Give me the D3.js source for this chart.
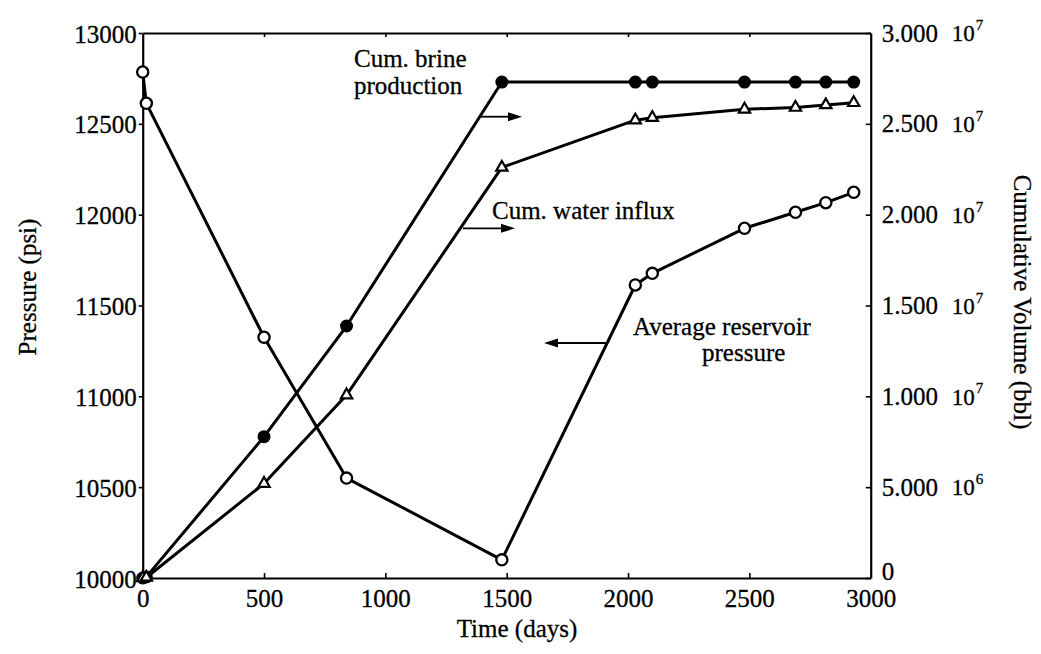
<!DOCTYPE html>
<html>
<head>
<meta charset="utf-8">
<script src="https://cdn.jsdelivr.net/npm/d3@7"></script>
<style>
  html, body { margin: 0; padding: 0; background: #fff; }
  svg { display: block; }
  text { font-family: "Liberation Serif", "Times New Roman", serif; fill: #000; stroke: #000; stroke-width: 0.3px; }
</style>
</head>
<body>
<svg id="chart" width="1041" height="654"></svg>
<script>
// Time of each observation (days)
const days = [0, 15, 500, 840, 1480, 2030, 2100, 2480, 2690, 2815, 2930];
// Average reservoir pressure (psi) - left axis
const pressure = [12785, 12613, 11325, 10550, 10100, 11613, 11677, 11925, 12013, 12066, 12123];
// Cumulative brine production (bbl) - right axis
const brine = [0, 60000, 7.78e6, 1.387e7, 2.73e7, 2.73e7, 2.73e7, 2.73e7, 2.73e7, 2.73e7, 2.73e7];
// Cumulative water influx (bbl) - right axis
const influx = [0, 30000, 5.2e6, 1.007e7, 2.26e7, 2.52e7, 2.534e7, 2.58e7, 2.59e7, 2.604e7, 2.616e7];

// Tick values and labels
const timeTicks = [0, 500, 1000, 1500, 2000, 2500, 3000];
const pressureTicks = [10000, 10500, 11000, 11500, 12000, 12500, 13000];
const volumeTicks = [0, 5e6, 1e7, 1.5e7, 2e7, 2.5e7, 3e7];
const volumeMantissa = ["0", "5.000", "1.000", "1.500", "2.000", "2.500", "3.000"];
const volumeExponent = ["", "6", "7", "7", "7", "7", "7"];

const svg = d3.select("#chart");
const FS = 25;

const x = d3.scaleLinear().domain([0, 3000]).range([142.7, 870.7]);
const yP = d3.scaleLinear().domain([10000, 13000]).range([578, 33]);
const yV = d3.scaleLinear().domain([0, 3e7]).range([578, 33]);

const axisStyle = g => {
  g.selectAll("path.domain").attr("stroke", "#000").attr("stroke-width", 2.2);
  g.selectAll(".tick line").attr("stroke", "#000").attr("stroke-width", 1.6);
  g.selectAll("text").attr("font-size", FS).attr("font-family", "Liberation Serif");
};

// Bottom axis (ticks inward)
svg.append("g")
  .attr("transform", `translate(0,${yP(10000)})`)
  .call(d3.axisBottom(x).tickValues(timeTicks).tickFormat(d3.format("d"))
    .tickSizeInner(-5).tickSizeOuter(0).tickPadding(11))
  .call(axisStyle);

// Top frame line (ticks inward, no labels)
svg.append("g")
  .attr("transform", `translate(0,${yP(13000)})`)
  .call(d3.axisTop(x).tickValues(timeTicks.slice(1, -1)).tickFormat("")
    .tickSizeInner(-4).tickSizeOuter(0))
  .call(axisStyle);

// Left pressure axis (ticks outward)
svg.append("g")
  .attr("transform", `translate(${x(0)},0)`)
  .call(d3.axisLeft(yP).tickValues(pressureTicks).tickFormat(d3.format("d"))
    .tickSizeInner(4).tickSizeOuter(0).tickPadding(2))
  .call(axisStyle)
  .selectAll("text").attr("dy", "0.36em");

// Right volume axis (ticks inward, labels in mantissa/exponent form)
svg.append("g")
  .attr("transform", `translate(${x(3000)},0)`)
  .call(d3.axisRight(yV).tickValues(volumeTicks).tickFormat("")
    .tickSizeInner(-5).tickSizeOuter(0))
  .call(axisStyle);

const rLabels = svg.append("g").selectAll("g")
  .data(volumeTicks).join("g")
  .attr("transform", d => `translate(${x(3000) + 11},${yV(d) - (d === 0 ? 7 : 0)})`);
rLabels.append("text")
  .attr("font-size", FS).attr("dy", "0.34em")
  .text((d, i) => volumeMantissa[i]);
const withExp = rLabels.filter((d, i) => volumeExponent[i] !== "");
withExp.append("text")
  .attr("x", 70).attr("font-size", 23).attr("dy", "0.36em")
  .text("10");
withExp.append("text")
  .attr("x", 94).attr("font-size", 15).attr("dy", "-0.2em")
  .text(d => volumeExponent[volumeTicks.indexOf(d)]);

// Axis titles
svg.append("text")
  .attr("x", 517).attr("y", 637)
  .attr("text-anchor", "middle").attr("font-size", FS)
  .text("Time (days)");
svg.append("text")
  .attr("transform", "translate(27,287) rotate(-90)")
  .attr("text-anchor", "middle").attr("dominant-baseline", "central").attr("font-size", FS)
  .text("Pressure (psi)");
svg.append("text")
  .attr("transform", "translate(1022,302) rotate(90)")
  .attr("text-anchor", "middle").attr("dominant-baseline", "central").attr("font-size", FS)
  .text("Cumulative Volume (bbl)");

// Series lines
const lineOf = (vals, y) => d3.line().x((d, i) => x(days[i])).y((d, i) => y(vals[i]))(vals);
const lines = svg.append("g").attr("fill", "none").attr("stroke", "#000")
  .attr("stroke-width", 3).attr("stroke-linejoin", "round");
lines.append("path").attr("d", lineOf(pressure, yP));
lines.append("path").attr("d", lineOf(brine, yV));
lines.append("path").attr("d", lineOf(influx, yV));

// Markers
svg.append("g").selectAll("circle")
  .data(brine).join("circle")
  .attr("cx", (d, i) => x(days[i])).attr("cy", d => yV(d))
  .attr("r", 6.5).attr("fill", "#000");

const tri = d3.symbol().type(d3.symbolTriangle).size(55);
svg.append("g").selectAll("path")
  .data(influx).join("path")
  .attr("d", tri)
  .attr("transform", (d, i) => `translate(${x(days[i])},${yV(d)})`)
  .attr("fill", "#fff").attr("stroke", "#000").attr("stroke-width", 2.2);

svg.append("g").selectAll("circle")
  .data(pressure).join("circle")
  .attr("cx", (d, i) => x(days[i])).attr("cy", d => yP(d))
  .attr("r", 5.6).attr("fill", "#fff").attr("stroke", "#000").attr("stroke-width", 2.3);

// Annotation arrows pointing to the axis each curve is read against
function arrow(x1, x2, y) {
  const dir = Math.sign(x2 - x1);
  const g = svg.append("g");
  g.append("line").attr("x1", x1).attr("x2", x2 - dir * 10).attr("y1", y).attr("y2", y)
    .attr("stroke", "#000").attr("stroke-width", 1.8);
  g.append("path")
    .attr("d", `M${x2},${y} L${x2 - dir * 14},${y - 4.5} L${x2 - dir * 14},${y + 4.5} Z`)
    .attr("fill", "#000");
}
arrow(480, 522, 116.7);
arrow(463, 515, 228.3);
arrow(606.7, 544, 343);

const note = (tx, ty, s) => svg.append("text").attr("x", tx).attr("y", ty)
  .attr("font-size", FS).text(s);
note(354, 67, "Cum. brine");
note(354, 93.5, "production");
note(492, 218.5, "Cum. water influx");
note(633, 335, "Average reservoir");
note(702, 361, "pressure");
</script>
</body>
</html>
